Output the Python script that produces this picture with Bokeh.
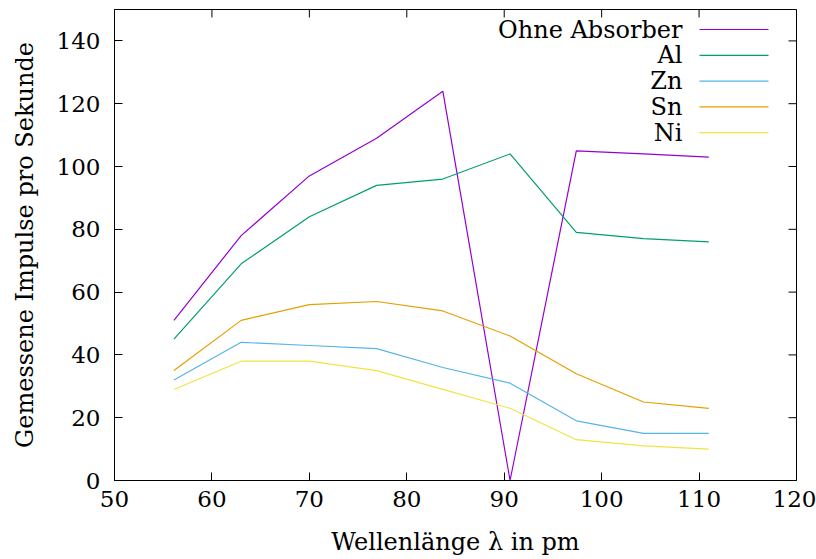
from bokeh.plotting import figure
from bokeh.models import Range1d, Label, FixedTicker
from bokeh.embed import file_html
from bokeh.resources import INLINE

# ---- data ----
wavelength = [56.1, 63.0, 70.0, 76.9, 83.7, 90.6, 97.4, 104.3, 111.0]
ohne = [51, 78, 97, 109, 124, 0, 105, 104, 103]
al = [45, 69, 84, 94, 96, 104, 79, 77, 76]
zn = [32, 44, 43, 42, 36, 31, 19, 15, 15]
sn = [35, 51, 56, 57, 54, 46, 34, 25, 23]
ni = [29, 38, 38, 35, 29, 23, 13, 11, 10]
series_names = ["Ohne Absorber", "Al", "Zn", "Sn", "Ni"]
series_values = [ohne, al, zn, sn, ni]
colors = ["#9400d3", "#009e73", "#56b4e9", "#e69f00", "#f0e442"]
x_ticks = [50, 60, 70, 80, 90, 100, 110, 120]
y_ticks = [0, 20, 40, 60, 80, 100, 120, 140]

FONT = "DejaVu Serif"
XR = (50, 120)
YR = (0, 150)
FW, FH = 682, 471
TICK = 8

p = figure(frame_width=FW, frame_height=FH, output_backend="svg", toolbar_location=None,
           x_range=Range1d(*XR), y_range=Range1d(*YR),
           min_border_left=114, min_border_right=20, min_border_top=9, min_border_bottom=79)
p.xgrid.visible = False
p.ygrid.visible = False
p.outline_line_color = "black"
p.outline_line_width = 1
p.background_fill_color = "white"
p.border_fill_color = "white"

def style_axis(ax, ticks):
    ax.ticker = FixedTicker(ticks=ticks)
    ax.minor_tick_line_color = None
    ax.major_tick_in = TICK
    ax.major_tick_out = 0
    ax.axis_line_color = "black"
    ax.major_tick_line_color = "black"
    ax.major_label_text_font = FONT
    ax.major_label_text_font_size = "23px"
    ax.major_label_text_color = "black"
    ax.axis_label_text_font = FONT
    ax.axis_label_text_font_size = "24px"
    ax.axis_label_text_font_style = "normal"
    ax.axis_label_text_color = "black"

style_axis(p.xaxis[0], x_ticks)
style_axis(p.yaxis[0], y_ticks)
p.xaxis[0].axis_label = "Wellenlänge λ in pm"
p.yaxis[0].axis_label = "Gemessene Impulse pro Sekunde"
p.xaxis[0].major_label_standoff = 10
p.yaxis[0].major_label_standoff = 14
p.xaxis[0].axis_label_standoff = 18
p.yaxis[0].axis_label_standoff = 15

# mirrored ticks on top and right (gnuplot style)
def fx(px):
    return XR[0] + px / FW * (XR[1] - XR[0])

def fy(py):
    return YR[1] - py / FH * (YR[1] - YR[0])

top_y1 = fy(TICK)
p.segment(x0=x_ticks, y0=[YR[1]] * len(x_ticks), x1=x_ticks, y1=[top_y1] * len(x_ticks),
          line_color="black", line_width=1)
right_x1 = fx(FW - TICK)
p.segment(x0=[XR[1]] * len(y_ticks), y0=y_ticks, x1=[right_x1] * len(y_ticks), y1=y_ticks,
          line_color="black", line_width=1)

for vals, c in zip(series_values, colors):
    p.line(wavelength, vals, line_color=c, line_width=1.2)

# ---- key (gnuplot style: text then sample), positioned in pixels inside the frame ----
text_right = 568
sample_x0, sample_x1 = 585, 654
row0, row_step = 20, 25.8
for i, (name, c) in enumerate(zip(series_names, colors)):
    yy = fy(row0 + i * row_step)
    p.add_layout(Label(x=fx(text_right), y=yy, text=name, text_align="right",
                       text_baseline="middle", text_font=FONT, text_font_size="24px",
                       text_color="black"))
    p.segment(x0=[fx(sample_x0)], y0=[yy], x1=[fx(sample_x1)], y1=[yy],
              line_color=c, line_width=1.2)

open("out.html", "w").write(file_html(p, INLINE))
